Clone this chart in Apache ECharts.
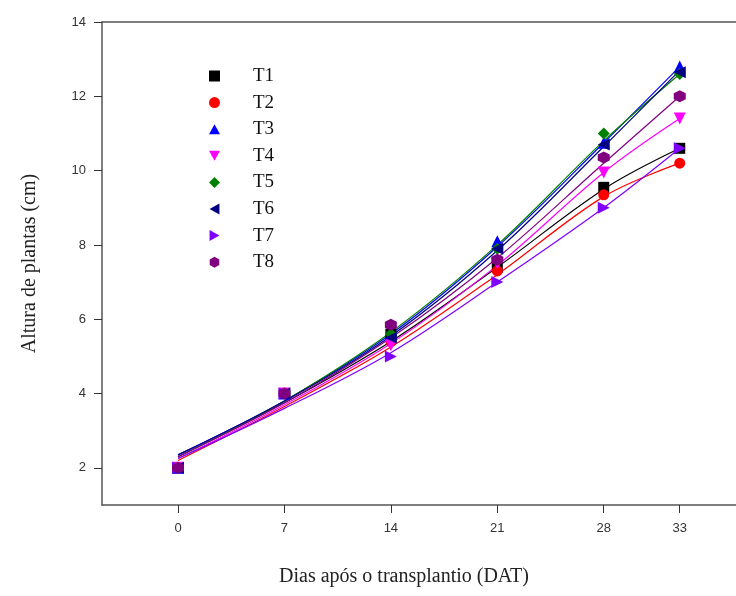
<!DOCTYPE html>
<html>
<head>
<meta charset="utf-8">
<script src="https://cdn.jsdelivr.net/npm/echarts@6/dist/echarts.min.js"></script>
<style>
  html, body { margin: 0; padding: 0; background: #ffffff; }
  #main { width: 736px; height: 596px; }
</style>
</head>
<body>
<div id="main"></div>
<script>
  // dias apos o transplantio
  var dias = [0, 7, 14, 21, 28, 33];
  var yTicks = [2, 4, 6, 8, 10, 12, 14];

  // valores medidos (pontos)
  var t1 = [2.0, 4.0, 5.6, 7.4, 9.55, 10.6];
  var t2 = [2.0, 4.0, 5.4, 7.3, 9.35, 10.2];
  var t3 = [2.0, 4.0, 5.6, 8.1, 10.75, 12.8];
  var t4 = [2.0, 4.0, 5.3, 7.5, 9.95, 11.4];
  var t5 = [2.0, 4.0, 5.6, 7.9, 11.0, 12.6];
  var t6 = [2.0, 4.0, 5.5, 7.9, 10.7, 12.65];
  var t7 = [2.0, 4.0, 5.0, 7.0, 9.0, 10.6];
  var t8 = [2.0, 4.0, 5.85, 7.6, 10.35, 12.0];

  // curvas ajustadas
  var fit1 = [2.3, 3.75, 5.4, 7.4, 9.5, 10.6];
  var fit2 = [2.2, 3.65, 5.25, 7.2, 9.3, 10.2];
  var fit3 = [2.35, 3.8, 5.6, 7.95, 10.75, 12.8];
  var fit4 = [2.25, 3.7, 5.35, 7.45, 9.95, 11.4];
  var fit5 = [2.3, 3.8, 5.65, 8.0, 10.8, 12.6];
  var fit6 = [2.35, 3.8, 5.55, 7.85, 10.65, 12.7];
  var fit7 = [2.25, 3.6, 5.1, 7.0, 9.0, 10.6];
  var fit8 = [2.3, 3.75, 5.5, 7.65, 10.2, 12.0];

  var nomes = ['T1', 'T2', 'T3', 'T4', 'T5', 'T6', 'T7', 'T8'];
  var cores = ['#000000', '#ff0000', '#0000ff', '#ff00ff', '#008000', '#000080', '#8000ff', '#800080'];
  var simbolos = [
    'rect',
    'circle',
    'path://M0,-1 L1,0.8 L-1,0.8 Z',
    'path://M0,1 L1,-0.8 L-1,-0.8 Z',
    'diamond',
    'path://M-1,0 L0.8,-1 L0.8,1 Z',
    'path://M1,0 L-0.8,-1 L-0.8,1 Z',
    'path://M0,-1 L0.866,-0.5 L0.866,0.5 L0,1 L-0.866,0.5 L-0.866,-0.5 Z'
  ];
  var tamanhos = [11, 11, 12, 12, 12, 12, 12, 12];
  var pontos = [t1, t2, t3, t4, t5, t6, t7, t8];
  var ajustes = [fit1, fit2, fit3, fit4, fit5, fit6, fit7, fit8];

  function pares(vals) {
    return dias.map(function (d, i) { return [d, vals[i]]; });
  }

  var series = [];
  for (var i = 0; i < nomes.length; i++) {
    series.push({
      name: nomes[i] + ' ajuste',
      type: 'line',
      smooth: 0.35,
      showSymbol: false,
      silent: true,
      z: 2,
      lineStyle: { color: cores[i], width: 1.2 },
      data: pares(ajustes[i])
    });
  }
  for (var j = 0; j < nomes.length; j++) {
    series.push({
      name: nomes[j],
      type: 'scatter',
      symbol: simbolos[j],
      symbolSize: tamanhos[j],
      z: 3,
      itemStyle: { color: cores[j], opacity: 1 },
      data: pares(pontos[j])
    });
  }

  var eixo = { color: '#555555', width: 1.5 };
  var rotulo = { fontFamily: 'Liberation Sans', fontSize: 13, color: '#333333' };

  var myChart = echarts.init(document.getElementById('main'));
  var option = {
    backgroundColor: '#ffffff',
    animation: false,
    grid: {
      left: 102,
      top: 22,
      bottom: 91,
      right: 0
    },
    legend: {
      data: nomes,
      orient: 'vertical',
      left: 204,
      top: 61,
      itemWidth: 11,
      itemHeight: 11,
      itemGap: 6.6,
      textStyle: {
        fontFamily: 'Liberation Serif',
        fontSize: 19,
        color: '#111111',
        lineHeight: 20,
        padding: [0, 0, 0, 28]
      }
    },
    xAxis: [
      {
        type: 'value',
        min: -5,
        max: 36.7,
        name: 'Dias após o transplantio (DAT)',
        nameLocation: 'middle',
        nameGap: 62,
        nameTextStyle: {
          fontFamily: 'Liberation Serif',
          fontSize: 20,
          color: '#222222',
          padding: [0, 30, 0, 0]
        },
        splitLine: { show: false },
        axisLine: { show: true, onZero: false, lineStyle: eixo },
        axisTick: { show: true, length: 8, customValues: dias, lineStyle: { color: '#333333' } },
        axisLabel: Object.assign({ customValues: dias, margin: 17 }, rotulo)
      },
      {
        // linha superior da moldura
        type: 'value',
        position: 'top',
        min: -5,
        max: 36.7,
        splitLine: { show: false },
        axisLine: { show: true, onZero: false, lineStyle: eixo },
        axisTick: { show: false },
        axisLabel: { show: false }
      }
    ],
    yAxis: {
      type: 'value',
      min: 1,
      max: 14,
      name: 'Altura de plantas (cm)',
      nameLocation: 'middle',
      nameGap: 62,
      nameTextStyle: {
        fontFamily: 'Liberation Serif',
        fontSize: 20,
        color: '#222222'
      },
      splitLine: { show: false },
      axisLine: { show: true, onZero: false, lineStyle: eixo },
      axisTick: { show: true, length: 8, customValues: yTicks, lineStyle: { color: '#333333' } },
      axisLabel: Object.assign({ customValues: yTicks, margin: 16 }, rotulo)
    },
    series: series
  };
  myChart.setOption(option);
</script>
</body>
</html>
